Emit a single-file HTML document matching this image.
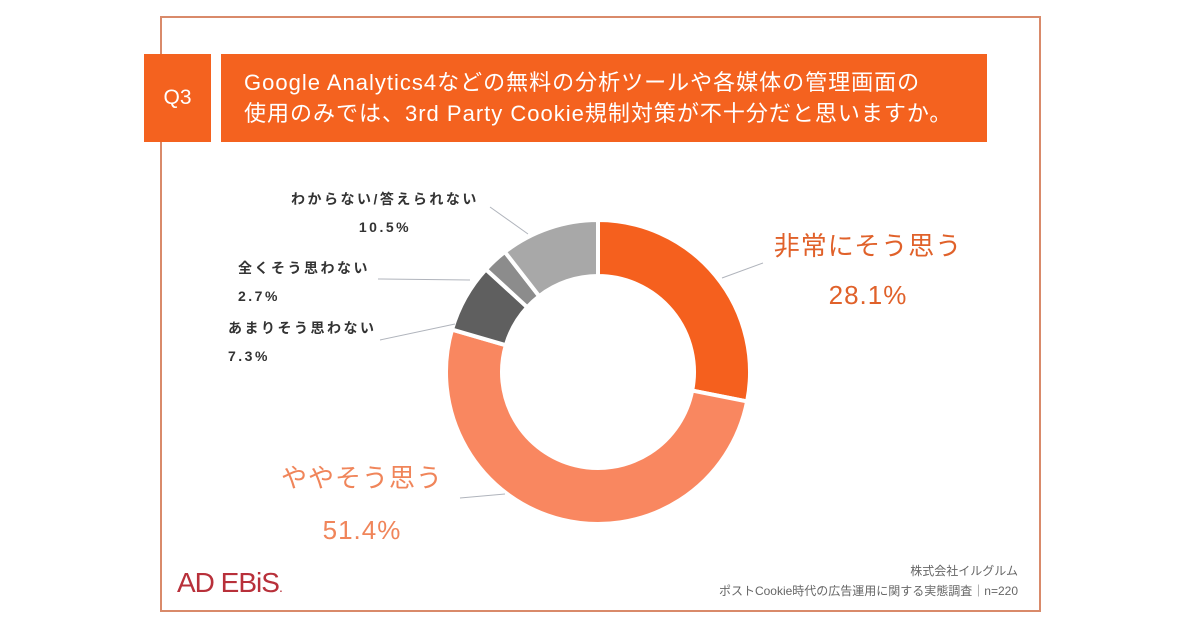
<!DOCTYPE html>
<html><head><meta charset="utf-8">
<style>
html,body{margin:0;padding:0;background:#fff;}
body{width:1200px;height:630px;position:relative;overflow:hidden;font-family:"Liberation Sans","Noto Sans CJK JP",sans-serif;}
.abs{position:absolute;}
.sm{font-size:14px;font-weight:bold;color:#333;line-height:28px;letter-spacing:2.5px;}
</style></head>
<body>
<div class="abs" style="left:160px;top:16px;width:881px;height:596px;border:2px solid #d98a6a;box-sizing:border-box;"></div>
<div class="abs" style="left:144px;top:54px;width:67px;height:88px;background:#f4621f;color:#fff;font-size:21px;display:flex;align-items:center;justify-content:center;">Q3</div>
<div class="abs" style="left:221px;top:54px;width:766px;height:88px;background:#f4621f;color:#fff;font-size:22px;line-height:31px;padding:13px 0 0 23px;box-sizing:border-box;letter-spacing:1px;white-space:nowrap;">Google Analytics4などの無料の分析ツールや各媒体の管理画面の<br>使用のみでは、3rd Party Cookie規制対策が不十分だと思いますか。</div>

<svg class="abs" style="left:0;top:0" width="1200" height="630">
<g id="slices"></g>
<g stroke="#b0b4bc" stroke-width="1" fill="none">
<line x1="490" y1="207" x2="528" y2="234"/>
<line x1="378" y1="279" x2="470" y2="280"/>
<line x1="380" y1="340" x2="455" y2="324"/>
<line x1="722" y1="278" x2="763" y2="263"/>
<line x1="460" y1="498" x2="505" y2="494"/>
</g>
</svg>

<div class="abs sm" style="left:270px;top:185px;width:230px;text-align:center;">わからない/答えられない<br>10.5%</div>
<div class="abs sm" style="left:238px;top:254px;">全くそう思わない<br>2.7%</div>
<div class="abs sm" style="left:228px;top:314px;">あまりそう思わない<br>7.3%</div>
<div class="abs" style="left:760px;top:222px;width:216px;text-align:center;font-size:26px;color:#e0612a;line-height:49px;letter-spacing:1px;">非常にそう思う<br>28.1%</div>
<div class="abs" style="left:270px;top:452px;width:184px;text-align:center;font-size:26px;color:#f0855a;line-height:52px;letter-spacing:1px;">ややそう思う<br>51.4%</div>

<div class="abs" style="left:177px;top:567px;font-size:28px;color:#b8303a;letter-spacing:-1px;">AD EBiS<span style="font-size:14px">.</span></div>
<div class="abs" style="right:182px;top:561px;text-align:right;font-size:12px;color:#666;line-height:20px;">株式会社イルグルム<br>ポストCookie時代の広告運用に関する実態調査｜n=220</div>

<script>
const categories=["非常にそう思う","ややそう思う","あまりそう思わない","全くそう思わない","わからない/答えられない"];
const values=[28.1,51.4,7.3,2.7,10.5];
const colors=["#f5601e","#f98760","#5f5f5f","#8c8c8c","#a8a8a8"];
const cx=598,cy=372,R=152,r=96;
const total=values.reduce((a,b)=>a+b,0);
const g=document.getElementById('slices');
function pt(a,rad){return [cx+rad*Math.sin(a),cy-rad*Math.cos(a)];}
let acc=0;
values.forEach((v,i)=>{
  const a0=acc/total*2*Math.PI; acc+=v; const a1=acc/total*2*Math.PI;
  const large=(a1-a0)>Math.PI?1:0;
  const p0=pt(a0,R),p1=pt(a1,R),q1=pt(a1,r),q0=pt(a0,r);
  const p=document.createElementNS('http://www.w3.org/2000/svg','path');
  p.setAttribute('d',`M${p0[0]},${p0[1]}A${R},${R} 0 ${large} 1 ${p1[0]},${p1[1]}L${q1[0]},${q1[1]}A${r},${r} 0 ${large} 0 ${q0[0]},${q0[1]}Z`);
  p.setAttribute('fill',colors[i]);
  p.setAttribute('stroke','#fff');
  p.setAttribute('stroke-width','4');
  
  
  g.appendChild(p);
});
</script>
</body></html>
